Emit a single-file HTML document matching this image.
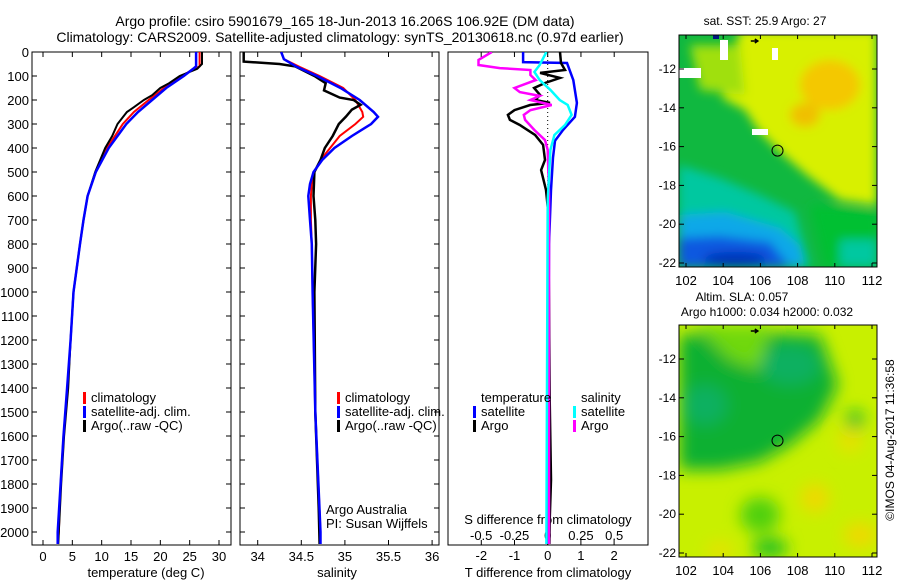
<!DOCTYPE html>
<html><head><meta charset="utf-8"><style>
html,body{margin:0;padding:0;background:#fff;}
svg{display:block;font-family:"Liberation Sans",sans-serif;}
text{fill:#000;}
</style></head><body>
<svg id="fig" width="900" height="580" viewBox="0 0 900 580">
<defs>
<filter id="blur1" x="-20%" y="-20%" width="140%" height="140%"><feGaussianBlur stdDeviation="5"/></filter>
<filter id="blur2" x="-20%" y="-20%" width="140%" height="140%"><feGaussianBlur stdDeviation="8"/></filter>
<clipPath id="clipM1"><rect x="679" y="35" width="198" height="232"/></clipPath>
<clipPath id="clipM2"><rect x="679" y="325" width="198" height="232"/></clipPath>
<clipPath id="clipP1"><rect x="32" y="52" width="199" height="493"/></clipPath>
<clipPath id="clipP2"><rect x="240" y="52" width="199" height="493"/></clipPath>
<clipPath id="clipP3"><rect x="448" y="52" width="200" height="493"/></clipPath>
</defs>
<text x="345" y="26" font-size="14" text-anchor="middle">Argo profile: csiro 5901679_165 18-Jun-2013 16.206S 106.92E (DM data)</text>
<text x="340" y="42" font-size="14" text-anchor="middle">Climatology: CARS2009. Satellite-adjusted climatology: synTS_20130618.nc (0.97d earlier)</text>

<g id="map1">
 <g clip-path="url(#clipM1)">
  <rect x="679" y="35" width="198" height="232" fill="#10b840"/>
  <g filter="url(#blur1)">
   <polygon points="679,165 720,178 760,195 795,212 810,267 679,267" fill="#00c8a0"/>
   <polygon points="679,215 725,212 780,228 800,245 805,267 679,267" fill="#10a8e8"/>
   <polygon points="679,238 720,236 770,242 790,267 679,267" fill="#0858e0"/>
   <ellipse cx="735" cy="259" rx="32" ry="7" fill="#0030b8"/>
   <polygon points="810,205 877,210 877,267 825,267" fill="#00c030"/>
   <polygon points="840,240 877,240 877,267 840,267" fill="#00c8a0"/>
   <polygon points="740,30 877,30 877,205 840,200 808,176 780,152 758,130 745,110 722,98 730,70" fill="#d8f000"/>
   <polygon points="690,45 740,45 745,95 700,90" fill="#a0e010"/>
   <ellipse cx="830" cy="85" rx="30" ry="25" fill="#f4c800"/>
   <ellipse cx="805" cy="115" rx="15" ry="12" fill="#f0c000"/>
  </g>
  <rect x="679" y="68" width="22" height="10" fill="#fff"/>
  <rect x="720" y="40" width="8" height="20" fill="#fff"/>
  <rect x="772" y="48" width="6" height="12" fill="#fff"/>
  <rect x="752" y="129" width="16" height="6" fill="#fff"/>
  <rect x="713" y="35" width="6" height="4" fill="#001880"/>
 </g>
 <rect x="679" y="35" width="198" height="232" fill="none" stroke="#000" stroke-width="1"/>
 <text x="765" y="25" font-size="12" text-anchor="middle">sat. SST: 25.9 Argo: 27</text>
</g>

<g id="map2">
 <g clip-path="url(#clipM2)">
  <rect x="679" y="325" width="198" height="232" fill="#c8f000"/>
  <g filter="url(#blur2)">
   <polygon points="679,335 730,330 820,335 838,385 820,420 790,445 760,462 720,470 679,470" fill="#10b030"/>
   <polygon points="695,325 770,325 760,370 730,360" fill="#70d810"/>
   <ellipse cx="705" cy="405" rx="22" ry="20" fill="#10b060"/>
   <ellipse cx="790" cy="365" rx="30" ry="20" fill="#10b060"/>
   <ellipse cx="855" cy="420" rx="9" ry="9" fill="#18b830"/>
   <ellipse cx="760" cy="515" rx="20" ry="18" fill="#50d010"/>
   <ellipse cx="770" cy="548" rx="18" ry="10" fill="#20c020"/>
   <ellipse cx="850" cy="440" rx="12" ry="12" fill="#e8e000"/>
   <ellipse cx="815" cy="498" rx="14" ry="14" fill="#f0d800"/>
   <ellipse cx="860" cy="535" rx="16" ry="12" fill="#f0d800"/>
   <ellipse cx="720" cy="550" rx="14" ry="8" fill="#e8e000"/>
  </g>
 </g>
 <rect x="679" y="325" width="198" height="232" fill="none" stroke="#000" stroke-width="1"/>
 <text x="742" y="301" font-size="12" text-anchor="middle">Altim. SLA: 0.057</text>
 <text x="767" y="316" font-size="12" text-anchor="middle">Argo h1000: 0.034 h2000: 0.032</text>
</g>
<text transform="translate(894,440) rotate(-90)" font-size="12" text-anchor="middle">©IMOS 04-Aug-2017 11:36:58</text>
<g id="axes"></g>
</svg>
<script>
// ---- data ----
const tempDepth = [0,60,70,100,150,200,250,300,400,500,600,700,800,1000,1200,1400,1600,1800,2000,2050];
const tempClim  = [26.7,26.7,25.8,23.6,20.6,18.0,15.5,13.6,10.9,9.0,7.6,6.9,6.3,5.2,4.7,4.2,3.5,3.0,2.7,2.5];
const tempSat   = [26.1,26.1,25.6,24.0,21.0,18.6,16.2,14.2,11.2,9.0,7.6,6.9,6.3,5.2,4.7,4.1,3.5,3.0,2.5,2.5];
const argoTDepth= [0,50,70,100,130,150,180,200,230,250,300,350,400,500,600,700,800,1000,1200,1400,1600,1800,2000,2050];
const argoTemp  = [27.1,27.1,26.3,23.3,21.5,20.0,18.6,17.2,15.5,14.3,12.7,11.8,10.6,8.9,7.6,6.9,6.3,5.2,4.7,4.3,3.6,3.1,2.7,2.6];

const salDepth = [0,30,62,100,150,200,250,270,300,350,400,450,500,550,600,700,800,1000,1500,2000,2050];
const salClim  = [34.27,34.3,34.48,34.71,34.98,35.12,35.2,35.21,35.12,34.94,34.83,34.72,34.65,34.62,34.61,34.61,34.62,34.63,34.66,34.72,34.72];
const salSat   = [34.27,34.3,34.45,34.68,34.95,35.17,35.33,35.38,35.3,35.08,34.88,34.74,34.64,34.6,34.58,34.6,34.62,34.63,34.66,34.72,34.72];
const argoSDepth=[0,40,50,60,100,130,160,190,200,220,240,270,300,350,400,450,500,600,700,800,1000,1500,1900,2050];
const argoSal   = [33.84,33.84,34.25,34.43,34.65,34.78,34.76,34.94,35.1,35.18,35.08,35.01,34.93,34.86,34.77,34.72,34.65,34.64,34.66,34.67,34.65,34.66,34.7,34.71];

const dTsatDepth=[0,42,46,117,212,270,325,370,440,575,800,1400,2050];
const dTsat     =[-0.74,-0.74,0.58,0.77,0.88,0.82,0.46,0.22,0.16,0.1,0.04,0.02,-0.03];
const dTargoDepth=[0,46,75,87,108,129,150,179,200,212,221,242,262,283,304,346,387,450,492,575,658,1033,1450,1783,1950,2050];
const dTargo     =[0.37,0.40,0.52,-0.23,0.37,-0.08,-0.41,-0.23,-0.38,0.07,-0.53,-1.0,-1.2,-1.14,-0.84,-0.38,-0.14,-0.08,-0.2,-0.05,0.01,0.04,0.06,0.1,0.06,0.05];
const dSargoDepth=[0,33,54,67,75,96,117,150,167,183,200,221,242,262,283,325,367,408,600,2050];
const dSargo     =[-0.42,-0.52,-0.52,-0.36,-0.13,-0.13,-0.09,-0.25,-0.21,-0.06,-0.13,0.03,-0.13,-0.18,-0.17,-0.1,-0.02,0,0.01,0.01];
const dSsatDepth=[0,54,83,117,158,200,221,262,304,346,408,617,2050];
const dSsat     =[-0.01,-0.06,-0.1,-0.06,0.02,0.09,0.15,0.18,0.13,0.05,0.02,0,-0.01];

const depthTicks=[0,100,200,300,400,500,600,700,800,900,1000,1100,1200,1300,1400,1500,1600,1700,1800,1900,2000];
const tempTicks=[0,5,10,15,20,25,30];
const salTicks=[34,34.5,35,35.5,36];
const dTTicks=[-2,-1,0,1,2];
const dSTicks=[-0.5,-0.25,0,0.25,0.5];
const dSTickLabels=["-0.5","-0.25","0","0.25","0.5"];
const latTicks=[-12,-14,-16,-18,-20,-22];
const lonTicks=[102,104,106,108,110,112];
const argoLon=106.92, argoLat=-16.206;

// ---- scales ----
const yD=d=>52+d*0.24;
const xT=t=>43+t*5.867;
const xS=s=>257.7+(s-34)*87.2;
const xdT=t=>547.7+t*33.2;
const xdS=s=>547.7+s*133;
const mLon=l=>686+(l-102)*18.6;
const m1Lat=l=>69+(-12-l)*19.4;
const m2Lat=l=>359+(-12-l)*19.4;

const NS="http://www.w3.org/2000/svg";
const svg=document.getElementById('fig');
const axes=document.getElementById('axes');
function mk(tag,attrs,parent){const e=document.createElementNS(NS,tag);for(const k in attrs)e.setAttribute(k,attrs[k]);(parent||axes).appendChild(e);return e;}
function txt(x,y,s,anchor,size,name){const e=mk('text',{x:x,y:y,'font-size':size||12,'text-anchor':anchor||'middle'});e.textContent=s;


return e;}

function stepLine(depths,vals,xf,color,w,clip,name){
  let d='';
  for(let i=0;i<depths.length;i++){const x=xf(vals[i]).toFixed(1),y=yD(depths[i]).toFixed(1);d+=(i?'L':'M')+x+','+y;}
  const p=mk('path',{d:d,fill:'none',stroke:color,'stroke-width':w,'clip-path':'url(#'+clip+')','stroke-linejoin':'miter'});
  
  
}

function panelFrame(x0,x1,name){
  const r=mk('rect',{x:x0,y:52,width:x1-x0,height:493,fill:'none',stroke:'#000','stroke-width':1});
  
  
  depthTicks.forEach(d=>{const y=yD(d);mk('line',{x1:x0,x2:x0+5,y1:y,y2:y,stroke:'#000'});mk('line',{x1:x1-5,x2:x1,y1:y,y2:y,stroke:'#000'});});
}

// panel 1
panelFrame(32,231,'temperature-panel');
depthTicks.forEach(d=>txt(29,yD(d)+5,String(d),'end',13,'depth-tick-label'));
tempTicks.forEach(t=>{const x=xT(t);mk('line',{x1:x,x2:x,y1:545,y2:540,stroke:'#000'});mk('line',{x1:x,x2:x,y1:52,y2:57,stroke:'#000'});txt(x,561,String(t),'middle',13,'temperature-tick-label');});
txt(146,577,'temperature (deg C)','middle',13,'temperature-axis-title');
stepLine(tempDepth,tempClim,xT,'#f00',2,'clipP1','temp-climatology-line');
stepLine(argoTDepth,argoTemp,xT,'#000',2,'clipP1','temp-argo-line');
stepLine(tempDepth,tempSat,xT,'#00f',2.5,'clipP1','temp-satellite-line');

// panel 2
panelFrame(240,439,'salinity-panel');
salTicks.forEach(s=>{const x=xS(s);mk('line',{x1:x,x2:x,y1:545,y2:540,stroke:'#000'});mk('line',{x1:x,x2:x,y1:52,y2:57,stroke:'#000'});txt(x,561,String(s),'middle',13,'salinity-tick-label');});
txt(337,577,'salinity','middle',13,'salinity-axis-title');
stepLine(salDepth,salClim,xS,'#f00',2,'clipP2','sal-climatology-line');
stepLine(argoSDepth,argoSal,xS,'#000',2.5,'clipP2','sal-argo-line');
stepLine(salDepth,salSat,xS,'#00f',2.5,'clipP2','sal-satellite-line');
txt(326,514,'Argo Australia','start',13,'argo-australia-note');
txt(326,528,'PI: Susan Wijffels','start',13,'pi-note');

// panel 3
const rr=mk('rect',{x:448,y:52,width:200,height:493,fill:'none',stroke:'#000'});


dTTicks.forEach(t=>{const x=xdT(t);mk('line',{x1:x,x2:x,y1:545,y2:540,stroke:'#000'});txt(x,560,String(t),'middle',13,'t-diff-tick-label');});
dSTicks.forEach((s,i)=>{const x=xdS(s);mk('line',{x1:x,x2:x,y1:52,y2:57,stroke:'#000'});txt(x,540,dSTickLabels[i],'middle',13,'s-diff-tick-label');});
txt(548,577,'T difference from climatology','middle',13,'t-diff-axis-title');
txt(548,524,'S difference from climatology','middle',13,'s-diff-axis-title');
mk('line',{x1:xdT(0),x2:xdT(0),y1:52,y2:545,stroke:'#000','stroke-dasharray':'1,3'});
stepLine(dTsatDepth,dTsat,xdT,'#00f',2.5,'clipP3','tdiff-satellite-line');
stepLine(dTargoDepth,dTargo,xdT,'#000',2.5,'clipP3','tdiff-argo-line');
stepLine(dSargoDepth,dSargo,xdS,'#f0f',2.5,'clipP3','sdiff-argo-line');
stepLine(dSsatDepth,dSsat,xdS,'#0ff',2.5,'clipP3','sdiff-satellite-line');

// legends
function legendRow(mx,y,color,label,name){
  const l=mk('rect',{x:mx,y:y-10,width:3,height:12,fill:color});
  
  
  txt(mx+8,y,label,'start',13,name);
}
legendRow(83,402,'#f00','climatology','legend-climatology');
legendRow(83,416,'#00f','satellite-adj. clim.','legend-satellite');
legendRow(83,430,'#000','Argo(..raw -QC)','legend-argo');
legendRow(337,402,'#f00','climatology','legend-climatology');
legendRow(337,416,'#00f','satellite-adj. clim.','legend-satellite');
legendRow(337,430,'#000','Argo(..raw -QC)','legend-argo');
txt(481,402,'temperature','start',13,'legend-temperature-header');
legendRow(473,416,'#00f','satellite','legend-t-satellite');
legendRow(473,430,'#000','Argo','legend-t-argo');
txt(581,402,'salinity','start',13,'legend-salinity-header');
legendRow(573,416,'#0ff','satellite','legend-s-satellite');
legendRow(573,430,'#f0f','Argo','legend-s-argo');

// map axes
function mapAxes(top,latf,name){
  latTicks.forEach(l=>{const y=latf(l);mk('line',{x1:679,x2:684,y1:y,y2:y,stroke:'#000'});mk('line',{x1:872,x2:877,y1:y,y2:y,stroke:'#000'});txt(676,y+4,String(l),'end',12,name+'-lat-label');});
  lonTicks.forEach(l=>{const x=mLon(l);mk('line',{x1:x,x2:x,y1:top,y2:top+4,stroke:'#000'});mk('line',{x1:x,x2:x,y1:top+232,y2:top+228,stroke:'#000'});txt(x,top+250,String(l),'middle',13,name+'-lon-label');});
  const c=mk('circle',{cx:mLon(argoLon),cy:latf(argoLat),r:5.5,fill:'none',stroke:'#000','stroke-width':1});
  
  
  const a=mk('path',{d:'M'+(mLon(105.7)-4)+','+(top+6)+' l7,0 m-3,-2 l3,2 l-3,2',stroke:'#000',fill:'none','stroke-width':1.5});
  
  
}
mapAxes(35,m1Lat,'sst-map');
mapAxes(325,m2Lat,'sla-map');
</script>
</body></html>
